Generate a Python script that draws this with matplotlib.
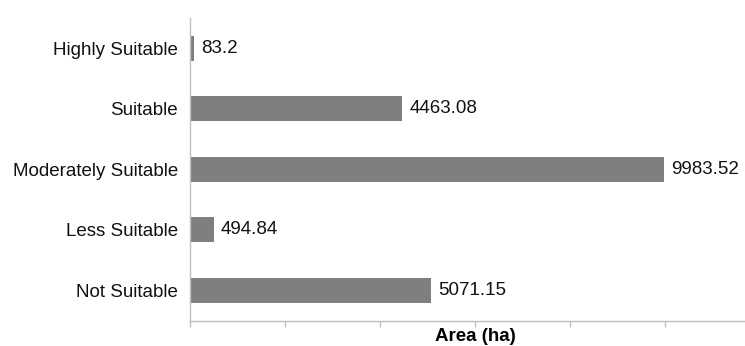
import matplotlib.pyplot as plt

categories = [
    "Highly Suitable",
    "Suitable",
    "Moderately Suitable",
    "Less Suitable",
    "Not Suitable",
]
areas = [83.2, 4463.08, 9983.52, 494.84, 5071.15]
value_labels = ["83.2", "4463.08", "9983.52", "494.84", "5071.15"]

plt.rcParams["font.family"] = ["Liberation Sans", "DejaVu Sans"]

fig = plt.figure(figsize=(7.45, 3.46), dpi=100)
axis = fig.add_axes([0.2554, 0.0731, 1.02 - 0.2554, 0.948 - 0.0731])

positions = list(range(len(categories)))
axis.barh(positions, areas, height=0.41, color="#7f7f7f")
axis.set_ylim(len(categories) - 0.5, -0.5)
axis.set_xlim(0, 12000)

axis.set_yticks(positions)
axis.set_yticklabels(categories, fontsize=13.5, color="#111111")
axis.tick_params(axis="y", length=0, pad=9)
axis.set_xticks(range(0, 12001, 2000))
axis.set_xticklabels([])
axis.tick_params(axis="x", length=4, width=1, color="#bfbfbf", direction="out")

for side in ("top", "right"):
    axis.spines[side].set_visible(False)
for side in ("left", "bottom"):
    axis.spines[side].set_color("#bfbfbf")
    axis.spines[side].set_linewidth(1)

for pos, amount, text in zip(positions, areas, value_labels):
    axis.text(amount + 150, pos, text, va="center", ha="left", fontsize=13.5, color="#111111")

axis.set_xlabel("Area (ha)", fontsize=13.5, fontweight="bold")
axis.xaxis.set_label_coords(0.5, -0.025)

fig.savefig("out.png", dpi=100)
